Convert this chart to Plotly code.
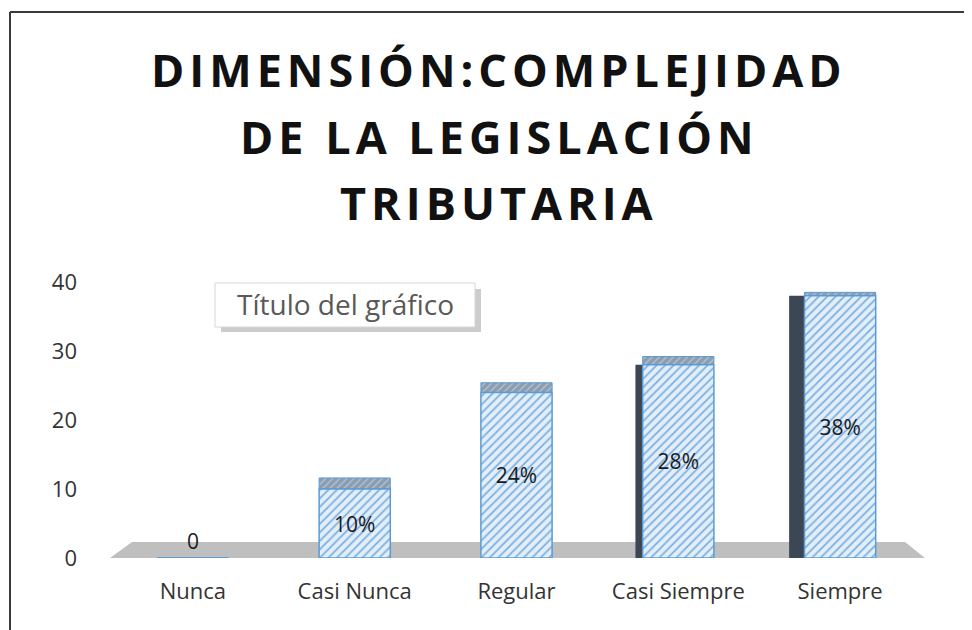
import plotly.graph_objects as go

categories = ["Nunca", "Casi Nunca", "Regular", "Casi Siempre", "Siempre"]
values = [0, 10, 24, 28, 38]
labels = ["0", "10%", "24%", "28%", "38%"]
y_ticks = [0, 10, 20, 30, 40]

title_lines = ["DIMENSIÓN:COMPLEJIDAD", "DE LA LEGISLACIÓN", "TRIBUTARIA"]
box_text = "Título del gráfico"

# The page places the figure 8px from the window corner; work in window pixels.
OFF = 8
FW, FH = 972 - OFF, 630 - OFF
PL, PR, PT, PB = 112, 921, 282, 558  # plot area in window pixels
W = PR - PL
H = PB - PT

def px(x):
    return (x - PL) / W

def py(y):
    return (PB - y) / H

fig = go.Figure()

# dark side faces (3D look)
fig.add_trace(go.Bar(
    x=categories, y=values,
    width=[0, 0, 0, 0.045, 0.095],
    offset=[0, 0, 0, -0.265, -0.315],
    marker=dict(color="#3b4754", line=dict(width=0)),
    hoverinfo="skip", showlegend=False,
))

# top faces (3D look), stacked on the bar tops
fig.add_trace(go.Bar(
    x=categories, y=[0, 1.6, 1.4, 1.2, 0.5], base=values,
    width=0.44,
    marker=dict(color="#8f9caa", line=dict(color="#5b9bd5", width=1),
                pattern=dict(shape="/", fgcolor="#a9c8e8", bgcolor="#8f9caa",
                             size=5, solidity=0.25, fillmode="replace")),
    hoverinfo="skip", showlegend=False,
))

fig.add_trace(go.Bar(
    x=categories, y=values,
    width=0.44,
    text=labels,
    textposition=["outside", "inside", "inside", "inside", "inside"],
    insidetextanchor="middle",
    textfont=dict(family="Open Sans, DejaVu Sans", size=21, color="#1a1a1a"),
    constraintext="none",
    cliponaxis=False,
    marker=dict(
        color="#e2eefa",
        line=dict(color="#5b9bd5", width=1.5),
        pattern=dict(shape="/", fgcolor="#7aaee0", bgcolor="#e2eefa",
                     size=6, solidity=0.28, fillmode="replace"),
    ),
    showlegend=False,
))

shapes = [
    # floor
    dict(type="path", xref="paper", yref="paper",
         path=f"M {px(110)} {py(558)} L {px(132)} {py(542)} L {px(905)} {py(542)} L {px(925)} {py(558)} Z",
         fillcolor="#bfbfbf", line=dict(width=0), layer="below"),
    # frame
    dict(type="line", xref="paper", yref="paper",
         x0=px(10), x1=px(10), y0=py(12), y1=py(640),
         line=dict(color="#3a3a3a", width=2)),
    dict(type="line", xref="paper", yref="paper",
         x0=px(10), x1=px(990), y0=py(12), y1=py(12),
         line=dict(color="#3a3a3a", width=2)),
    # shadow of the title box
    dict(type="rect", xref="paper", yref="paper",
         x0=px(221), x1=px(481), y0=py(332), y1=py(289),
         fillcolor="rgba(110,110,110,0.35)", line=dict(width=0), layer="above"),
    dict(type="rect", xref="paper", yref="paper",
         x0=px(215), x1=px(475), y0=py(327), y1=py(283),
         fillcolor="white", line=dict(color="#d6d6d6", width=1), layer="above"),
]

title_y = [70, 136, 202]
annotations = []
for line, yy in zip(title_lines, title_y):
    annotations.append(dict(
        xref="paper", yref="paper", x=px(499), y=py(yy),
        text=f'<span style="letter-spacing:5px">{line}</span>',
        showarrow=False, xanchor="center", yanchor="middle",
        font=dict(family="Open Sans", size=45, color="#111111", weight="bold"),
    ))
annotations.append(dict(
    xref="paper", yref="paper", x=px(345), y=py(304),
    text=box_text, showarrow=False, xanchor="center", yanchor="middle",
    font=dict(family="Open Sans, DejaVu Sans", size=28, color="#595959"),
))

fig.update_layout(
    width=FW, height=FH,
    margin=dict(l=PL - OFF, r=FW - (PR - OFF), t=PT - OFF, b=FH - (PB - OFF)),
    paper_bgcolor="white", plot_bgcolor="white",
    barmode="overlay",
    xaxis=dict(showgrid=False, showline=False, zeroline=False, ticks="",
               tickfont=dict(family="Open Sans, DejaVu Sans", size=22, color="#333333"),
               ticklabelstandoff=18),
    yaxis=dict(range=[0, 40], tickvals=y_ticks, showgrid=False, showline=False,
               zeroline=False, ticks="",
               tickfont=dict(family="Open Sans, DejaVu Sans", size=22, color="#333333"),
               ticklabelstandoff=34),
    shapes=shapes,
    annotations=annotations,
    bargap=0.5,
)

fig.write_html("out.html")
